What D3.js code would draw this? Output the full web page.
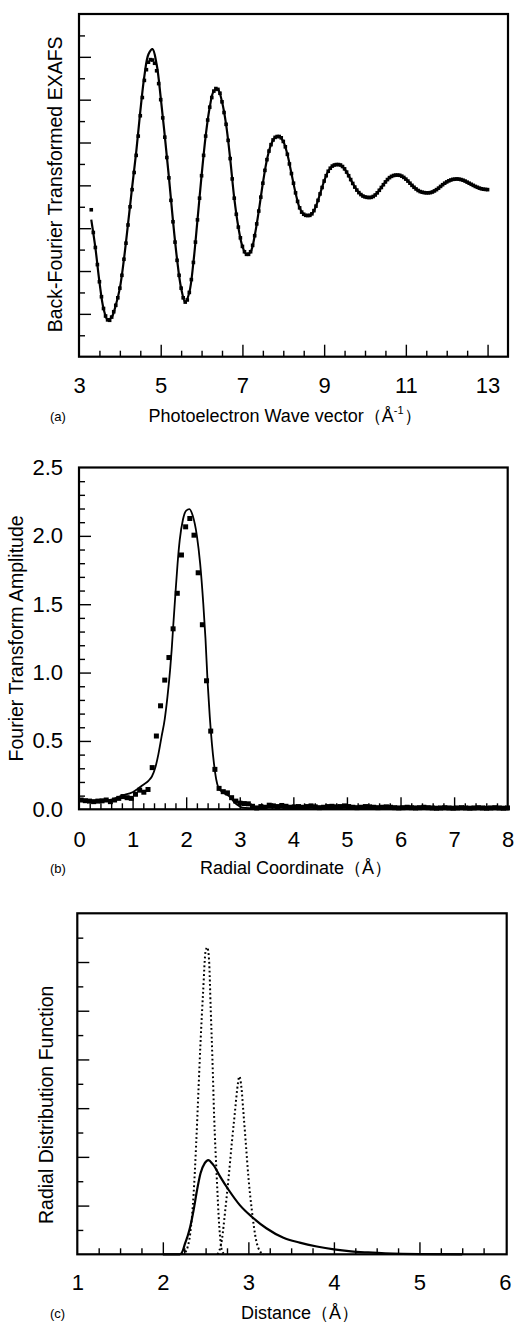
<!DOCTYPE html>
<html><head><meta charset="utf-8">
<script src="https://cdn.jsdelivr.net/npm/d3@7"></script>
<style>
body{margin:0;background:#fff}
svg{display:block}
text{font-family:"Liberation Sans",Arial,Helvetica,sans-serif;fill:#000}
</style>
</head><body>
<svg id="chart" width="514" height="1322"></svg>
<script>
// ---------- Panel (a): back-Fourier transformed EXAFS ----------
const exafsK0 = 3.30, exafsStep = 0.05;          // data sampling grid (k, 1/Å)
const exafsData = [
 -0.114,-0.22,-0.29,-0.37,-0.45,-0.52,-0.575,-0.61,-0.628,-0.63,
 -0.615,-0.59,-0.56,-0.525,-0.48,-0.42,-0.345,-0.27,-0.185,-0.1,-0.02,0.06,0.14,0.23,0.325,0.41,0.49,0.54,0.575,0.587,
 0.585,0.57,0.535,0.475,0.4,0.315,0.225,0.13,0.035,-0.07,-0.17,-0.265,-0.35,-0.42,-0.48,-0.525,-0.545,-0.535,-0.5,-0.44,
 -0.36,-0.265,-0.161,-0.06,0.045,0.14,0.23,0.305,0.365,0.41,0.44,0.452,0.448,0.43,0.39,0.34,0.285,0.21,0.125,0.03,
 -0.06,-0.135,-0.195,-0.245,-0.285,-0.31,-0.322,-0.322,-0.31,-0.28,-0.235,-0.18,-0.12,-0.055,0.01,0.07,0.12,0.16,0.19,0.212,
 0.224,0.228,0.228,0.222,0.205,0.18,0.145,0.1,0.055,0.01,-0.035,-0.075,-0.105,-0.125,-0.135,-0.14,-0.141,-0.14,-0.133,-0.118,
 -0.097,-0.07,-0.04,-0.01,0.02,0.045,0.066,0.08,0.09,0.095,0.097,0.097,0.095,0.088,0.077,0.062,0.045,0.027,0.009,-0.008,
 -0.022,-0.034,-0.043,-0.05,-0.054,-0.056,-0.057,-0.056,-0.052,-0.045,-0.035,-0.023,-0.01,0.003,0.016,0.027,0.036,0.042,0.046,0.048,
 0.048,0.047,0.043,0.037,0.029,0.02,0.01,0.0,-0.009,-0.017,-0.024,-0.029,-0.032,-0.034,-0.035,-0.035,-0.034,-0.031,-0.026,-0.02,
 -0.013,-0.005,0.003,0.01,0.016,0.021,0.025,0.028,0.029,0.03,0.029,0.027,0.024,0.02,0.015,0.01,0.005,0.0,-0.005,-0.009,
 -0.013,-0.016,-0.018,-0.019,-0.02
];
const exafsFitK0 = 3.3, exafsFitStep = 0.1;      // fit curve grid
const exafsFit = [
 -0.16,-0.29,-0.45,-0.575,-0.628,-0.615,-0.56,-0.48,-0.345,-0.18,
 -0.01,0.155,0.345,0.51,0.612,0.636,0.565,0.41,0.23,0.04,
 -0.165,-0.345,-0.48,-0.545,-0.5,-0.36,-0.161,0.045,0.23,0.365,
 0.44,0.448,0.39,0.285,0.125,-0.06,-0.195,-0.285,-0.322,-0.31,
 -0.235,-0.12,0.01,0.12,0.19,0.224,0.228,0.205,0.145,0.055,
 -0.035,-0.105,-0.135,-0.141,-0.133,-0.097,-0.04,0.02,0.066,0.09,
 0.097,0.095,0.077,0.045,0.009,-0.022,-0.043,-0.054,-0.057,-0.052,
 -0.035,-0.01,0.016,0.036,0.046,0.048,0.043,0.029,0.01,-0.009,
 -0.024,-0.032,-0.035,-0.034,-0.026,-0.013,0.003,0.016,0.025,0.029,
 0.029,0.024,0.015,0.005,-0.005,-0.013,-0.018,-0.02
];
const exafsXLabels = [3,5,7,9,11,13];

// ---------- Panel (b): Fourier transform amplitude ----------
const ftR0 = 0.04, ftStep = 0.078;               // data sampling grid (Å)
const ftData = [
 0.068,0.063,0.06,0.056,0.06,0.062,0.068,0.056,0.068,0.08,
 0.093,0.085,0.08,0.11,0.14,0.125,0.145,0.305,0.536,0.757,
 0.945,1.11,1.32,1.58,1.86,2.066,2.127,2.005,1.73,1.35,
 0.94,0.572,0.292,0.153,0.129,0.12,0.085,0.06,0.045,0.042,
 0.04,0.022,0.01,0.02,0.015,0.03,0.025,0.02,0.028,0.022,
 0.015,0.018,0.02,0.015,0.02,0.025,0.018,0.012,0.015,0.02,
 0.022,0.018,0.02,0.025,0.02,0.015,0.012,0.015,0.02,0.018,
 0.015,0.012,0.015,0.018,0.015,0.012,0.01,0.012,0.015,0.012,
 0.01,0.012,0.015,0.012,0.01,0.008,0.01,0.012,0.01,0.008,
 0.01,0.012,0.01,0.008,0.01,0.012,0.01,0.008,0.01,0.012,
 0.01,0.008,0.01
];
const ftFitR = [0,0.2,0.4,0.6,0.8,1.0,1.1,1.2,1.3,1.36,1.42,1.48,1.54,1.6,1.65,1.7,1.73,1.76,1.8,1.84,1.88,1.94,2.0,2.06,2.12,2.2,2.26,2.32,2.36,2.4,2.44,2.48,2.52,2.56,2.6,2.66,2.74,2.82,2.9,3.0,3.1,3.3,3.6,4.0,4.5,5.0,5.5,6.0,6.5,7.0,7.5,8.0];
const ftFitV = [0.06,0.06,0.06,0.07,0.10,0.125,0.15,0.18,0.21,0.24,0.30,0.40,0.53,0.66,0.82,1.02,1.17,1.35,1.58,1.80,1.97,2.12,2.185,2.195,2.15,2.0,1.80,1.50,1.25,0.93,0.68,0.48,0.33,0.22,0.16,0.13,0.11,0.09,0.05,0.02,0.01,0.008,0.015,0.01,0.01,0.01,0.008,0.006,0.006,0.005,0.005,0.005];
const ftXLabels = [0,1,2,3,4,5,6,7,8];
const ftYLabels = [0,0.5,1.0,1.5,2.0,2.5];

// ---------- Panel (c): radial distribution function ----------
const rdfSolidR = [2.0,2.2,2.23,2.26,2.29,2.32,2.36,2.40,2.44,2.49,2.53,2.59,2.67,2.77,2.90,3.04,3.21,3.41,3.60,3.8,4.0,4.2,4.4,4.6,4.8,5.0,5.5];
const rdfSolidV = [0,0,0.12,0.45,0.75,1.13,1.82,2.64,3.32,3.74,3.87,3.67,3.19,2.64,2.02,1.54,1.07,0.68,0.48,0.32,0.2,0.12,0.075,0.04,0.02,0.01,0];
const rdfPeak1R = [2.22,2.26,2.29,2.32,2.36,2.39,2.415,2.44,2.47,2.50,2.52,2.54,2.56,2.58,2.60,2.63,2.66,2.69,2.72];
const rdfPeak1V = [0,0.08,0.3,0.85,2.5,4.56,6.61,8.66,10.71,12.45,12.6,12.1,10.03,7.98,5.65,3.19,1.13,0.17,0];
const rdfPeak2R = [2.64,2.69,2.73,2.77,2.806,2.845,2.87,2.895,2.92,2.94,2.97,3.0,3.04,3.09,3.14,3.18];
const rdfPeak2V = [0,0.59,1.82,3.19,4.56,5.92,6.8,7.3,6.8,5.92,4.56,3.19,1.82,0.59,0.1,0];
const rdfXLabels = [1,2,3,4,5,6];

// ---------- drawing ----------
const svg = d3.select("#chart");
const FONT = '"Liberation Sans",Arial,Helvetica,sans-serif';

function panel(c) {
  const x = d3.scaleLinear().domain(c.xDomain).range([c.left, c.right]);
  const y = d3.scaleLinear().domain(c.yDomain).range([c.bottom, c.top]);
  const g = svg.append("g");
  const tickAxis = (gen, scale, vals, size, tr) => {
    g.append("g").attr("transform", tr)
      .call(gen(scale).tickValues(vals).tickSize(-size).tickFormat(""))
      .call(a => { a.select(".domain").remove();
                   a.selectAll("line").attr("stroke", "#000").attr("stroke-width", 1.4); });
  };
  tickAxis(d3.axisBottom, x, c.xMajor, 12, `translate(0,${c.bottom})`);
  tickAxis(d3.axisBottom, x, c.xMinor, 6, `translate(0,${c.bottom})`);
  tickAxis(d3.axisLeft, y, c.yMajor, 12, `translate(${c.left},0)`);
  tickAxis(d3.axisLeft, y, c.yMinor, 6, `translate(${c.left},0)`);
  g.append("g").attr("transform", `translate(0,${c.bottom})`)
    .call(d3.axisBottom(x).tickValues(c.xLabels).tickSize(0).tickPadding(c.xPad).tickFormat(d3.format("d")))
    .call(a => { a.select(".domain").remove();
                 a.attr("font-size", 22).attr("font-family", FONT); });
  if (c.yLabels) {
    g.append("g").attr("transform", `translate(${c.left},0)`)
      .call(d3.axisLeft(y).tickValues(c.yLabels).tickSize(0).tickPadding(16).tickFormat(d3.format(".1f")))
      .call(a => { a.select(".domain").remove();
                   a.attr("font-size", 22).attr("font-family", FONT); });
  }
  g.append("rect").attr("x", c.left).attr("y", c.top)
    .attr("width", c.right - c.left).attr("height", c.bottom - c.top)
    .attr("fill", "none").attr("stroke", "#000").attr("stroke-width", 2.2);
  g.append("text").attr("transform", `translate(${c.yTitleX},${(c.top + c.bottom) / 2 + c.yTitleDy}) rotate(-90)`)
    .attr("text-anchor", "middle").attr("font-size", 19.5).text(c.yTitle);
  const xt = g.append("text").attr("x", c.xTitleX).attr("y", c.xTitleY)
    .attr("text-anchor", "middle").attr("font-size", 18);
  c.xTitle(xt);
  g.append("text").attr("x", 50).attr("y", c.xTitleY - 1).attr("font-size", 13).text(c.tag);
  return { g, x, y };
}

// Panel (a)
const pa = panel({
  left: 79, right: 508, top: 14, bottom: 356.7,
  xDomain: [3, 13.5], yDomain: [-0.8, 0.8],
  xMajor: [5, 7, 9, 11, 13], xMinor: d3.range(3.5, 13.5, 0.5).filter(v => [5, 7, 9, 11, 13].indexOf(v) < 0),
  yMajor: [-0.6, -0.4, -0.2, 0, 0.2, 0.4, 0.6], yMinor: [-0.7, -0.5, -0.3, -0.1, 0.1, 0.3, 0.5, 0.7],
  xLabels: exafsXLabels, xPad: 20.5,
  yTitle: "Back-Fourier Transformed EXAFS", yTitleX: 61.5, yTitleDy: -1,
  xTitleX: 285, xTitleY: 422, tag: "(a)",
  xTitle: t => { t.append("tspan").text("Photoelectron Wave vector（Å");
                 t.append("tspan").attr("font-size", 11).attr("dy", -8).text("-1");
                 t.append("tspan").attr("dy", 8).text("）"); }
});

pa.g.append("path")
  .datum(exafsFit)
  .attr("fill", "none").attr("stroke", "#000").attr("stroke-width", 2.2)
  .attr("d", d3.line().curve(d3.curveCatmullRom.alpha(0.5))
    .x((d, i) => pa.x(exafsFitK0 + i * exafsFitStep)).y(d => pa.y(d)));
pa.g.selectAll("rect.dot").data(exafsData).join("rect").attr("class", "dot")
  .attr("x", (d, i) => pa.x(exafsK0 + i * exafsStep) - 1.8)
  .attr("y", d => pa.y(d) - 1.8).attr("width", 3.6).attr("height", 3.6).attr("fill", "#000");

// Panel (b)
const pb = panel({
  left: 79, right: 507.7, top: 467.5, bottom: 809.3,
  xDomain: [0, 8], yDomain: [0, 2.5],
  xMajor: [1, 2, 3, 4, 5, 6, 7], xMinor: d3.range(0.2, 8, 0.2).filter(v => Math.abs(v - Math.round(v)) > 0.05),
  yMajor: [0.5, 1, 1.5, 2], yMinor: d3.range(0.1, 2.5, 0.1).filter(v => Math.abs(v * 2 - Math.round(v * 2)) > 0.05),
  xLabels: ftXLabels, xPad: 22.5, yLabels: ftYLabels,
  yTitle: "Fourier Transform Amplitude", yTitleX: 23, yTitleDy: 0,
  xTitleX: 296, xTitleY: 874, tag: "(b)",
  xTitle: t => t.text("Radial Coordinate（Å）")
});
pb.g.append("path").datum(ftFitR.map((r, i) => [r, ftFitV[i]]))
  .attr("fill", "none").attr("stroke", "#000").attr("stroke-width", 1.8)
  .attr("d", d3.line().curve(d3.curveMonotoneX).x(d => pb.x(d[0])).y(d => pb.y(d[1])));
pb.g.selectAll("rect.sq").data(ftData).join("rect").attr("class", "sq")
  .attr("x", (d, i) => pb.x(ftR0 + i * ftStep) - 2.5)
  .attr("y", d => pb.y(d) - 2.5).attr("width", 5).attr("height", 5).attr("fill", "#000");

// Panel (c)
const pc = panel({
  left: 77.3, right: 506.7, top: 913.3, bottom: 1254.3,
  xDomain: [1, 6.02], yDomain: [0, 14],
  xMajor: [2, 3, 4, 5], xMinor: d3.range(1.25, 6, 0.25).filter(v => Math.abs(v - Math.round(v)) > 0.05),
  yMajor: [2, 4, 6, 8, 10, 12], yMinor: [1, 3, 5, 7, 9, 11, 13],
  xLabels: rdfXLabels, xPad: 20,
  yTitle: "Radial Distribution Function", yTitleX: 53, yTitleDy: 21,
  xTitleX: 300, xTitleY: 1319, tag: "(c)",
  xTitle: t => t.text("Distance（Å）")
});
const rdfLine = d3.line().curve(d3.curveMonotoneX).x(d => pc.x(d[0])).y(d => pc.y(d[1]));
[[rdfPeak1R, rdfPeak1V], [rdfPeak2R, rdfPeak2V]].forEach(([R, V]) => {
  pc.g.append("path").datum(R.map((r, i) => [r, V[i]]))
    .attr("fill", "none").attr("stroke", "#000").attr("stroke-width", 2)
    .attr("stroke-dasharray", "1.8,2.6").attr("d", rdfLine);
});
pc.g.append("path").datum(rdfSolidR.map((r, i) => [r, rdfSolidV[i]]))
  .attr("fill", "none").attr("stroke", "#000").attr("stroke-width", 2.2).attr("d", rdfLine);
</script>
</body></html>
